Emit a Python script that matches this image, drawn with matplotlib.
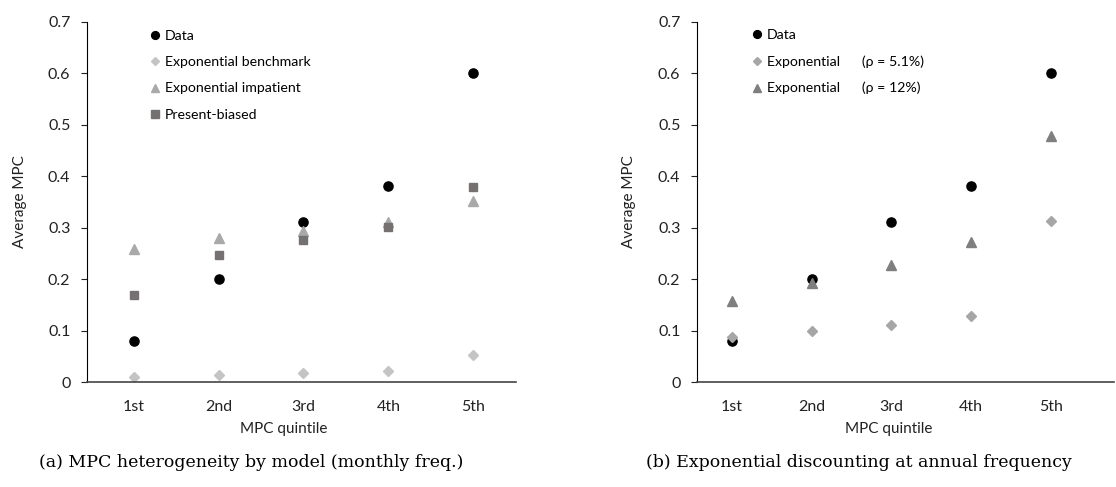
import numpy as np
import matplotlib
matplotlib.use("Agg")
import matplotlib.pyplot as plt

# Values
quintiles = ["1st", "2nd", "3rd", "4th", "5th"]
data_mpc = [0.08, 0.20, 0.31, 0.38, 0.60]

# panel (a): monthly frequency
exp_benchmark = [0.010, 0.014, 0.018, 0.022, 0.053]
exp_impatient = [0.259, 0.280, 0.294, 0.310, 0.352]
present_biased = [0.169, 0.246, 0.276, 0.302, 0.379]

# panel (b): annual frequency
exp_rho_51 = [0.088, 0.100, 0.110, 0.128, 0.312]
exp_rho_12 = [0.158, 0.193, 0.228, 0.272, 0.477]

plt.rcParams["font.family"] = ["Lato", "DejaVu Sans"]
plt.rcParams["font.size"] = 10

fig = plt.figure(figsize=(11.16, 4.87), dpi=100)
ax1 = fig.add_axes([0.078, 0.2156, 0.384, 0.7398])
ax2 = fig.add_axes([0.6246, 0.2156, 0.374, 0.7398])

x = np.arange(1, len(quintiles) + 1)


def style_axes(ax, xlim):
    ax.set_xlim(*xlim)
    ax.set_ylim(0, 0.7)
    ax.set_yticks(np.arange(0, 0.71, 0.1))
    ax.set_yticklabels(["0", "0.1", "0.2", "0.3", "0.4", "0.5", "0.6", "0.7"])
    ax.set_xticks(x)
    ax.set_xticklabels(quintiles)
    ax.spines["top"].set_visible(False)
    ax.spines["right"].set_visible(False)
    ax.spines["left"].set_color("black")
    ax.spines["bottom"].set_color("#444444")
    ax.spines["bottom"].set_linewidth(1.2)
    ax.tick_params(axis="y", length=4, pad=8, labelsize=11.5, colors="#222222")
    ax.tick_params(axis="x", length=0, pad=13, labelsize=11.5, colors="#222222")
    ax.set_xlabel("MPC quintile", fontsize=11, color="#222222")
    ax.xaxis.set_label_coords(0.46, -0.11)
    ax.set_ylabel("Average MPC", fontsize=11, color="#222222")


legend_kw = dict(loc="upper left", frameon=False, fontsize=10.2,
                 handlelength=0.8, handletextpad=0.3, labelspacing=1.0,
                 markerscale=0.85)

# (a)
ax1.plot(x, data_mpc, "o", color="black", ms=6.6, label="Data")
ax1.plot(x, exp_benchmark, "D", color="#c4c4c4", ms=5, label="Exponential benchmark")
ax1.plot(x, exp_impatient, "^", color="#a9a9a9", ms=7, label="Exponential impatient")
ax1.plot(x, present_biased, "s", color="#767171", ms=6.3, label="Present-biased")
style_axes(ax1, (0.45, 5.5))
ax1.yaxis.set_label_coords(-0.14, 0.5)
ax1.legend(bbox_to_anchor=(0.115, 1.012), **legend_kw)

# (b)
ax2.plot(x, data_mpc, "o", color="black", ms=6.6, label="Data")
ax2.plot(x, exp_rho_51, "D", color="#a6a6a6", ms=5,
         label="Exponential      (ρ = 5.1%)")
ax2.plot(x, exp_rho_12, "^", color="#7f7f7f", ms=7,
         label="Exponential      (ρ = 12%)")
style_axes(ax2, (0.56, 5.8))
ax2.yaxis.set_label_coords(-0.147, 0.5)
ax2.legend(bbox_to_anchor=(0.1, 1.015), **legend_kw)

# captions
fig.text(0.225, 0.05, "(a) MPC heterogeneity by model (monthly freq.)",
         ha="center", va="center", fontsize=12.5, family=["DejaVu Serif"])
fig.text(0.77, 0.05, "(b) Exponential discounting at annual frequency",
         ha="center", va="center", fontsize=12.5, family=["DejaVu Serif"])

fig.savefig("out.png", dpi=100)
